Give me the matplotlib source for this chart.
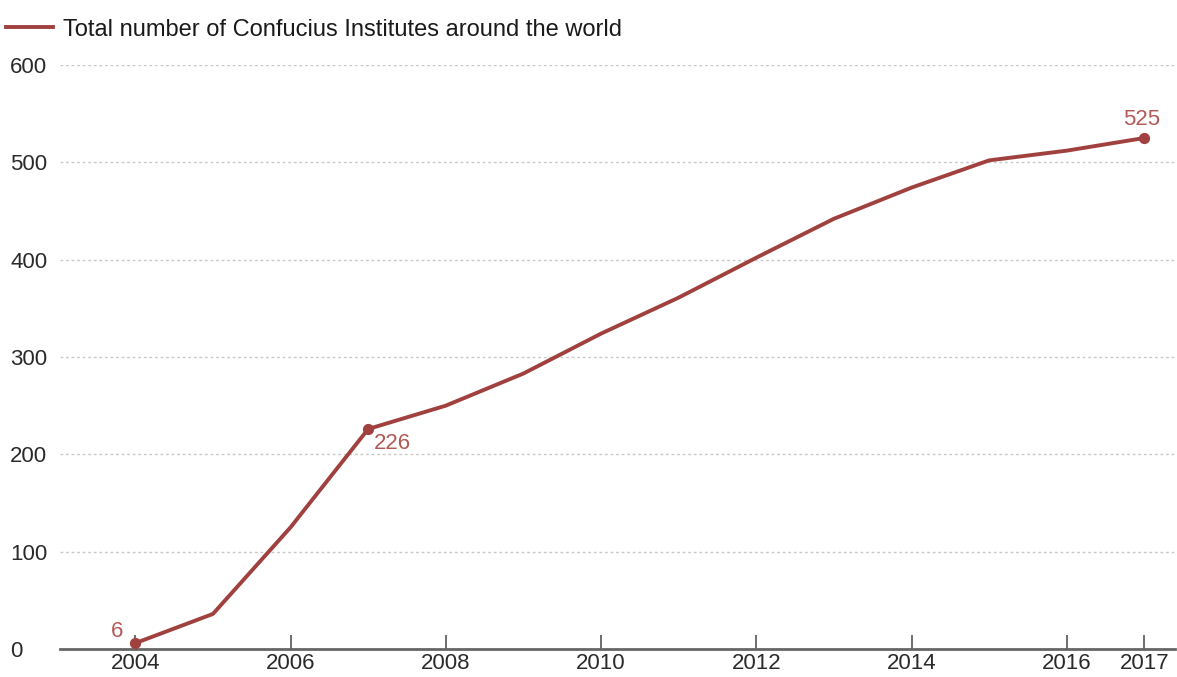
import matplotlib
matplotlib.use("Agg")
import matplotlib.pyplot as plt

years = [2004, 2005, 2006, 2007, 2008, 2009, 2010, 2011, 2012, 2013, 2014, 2015, 2016, 2017]
institutes = [6, 36, 125, 226, 250, 283, 324, 361, 402, 442, 474, 502, 512, 525]
xtick_years = [2004, 2006, 2008, 2010, 2012, 2014, 2016, 2017]
ytick_vals = [0, 100, 200, 300, 400, 500, 600]
highlight_years = [2004, 2007, 2017]

LINE = "#a0413f"
LABEL = "#b35a57"

plt.rcParams["font.family"] = ["Liberation Sans", "DejaVu Sans"]

fig = plt.figure(figsize=(11.77, 6.77), dpi=100)
ax = fig.add_axes([0.051, 0.0414, 0.947, 0.8626])

ax.plot(years, institutes, color=LINE, lw=2.8, solid_joinstyle="round",
        label="Total number of Confucius Institutes around the world")
hx = [years.index(y) for y in highlight_years]
ax.scatter([years[i] for i in hx], [institutes[i] for i in hx], color=LINE, s=50, zorder=3)

ax.annotate(str(institutes[hx[0]]), (years[hx[0]], institutes[hx[0]]), xytext=(-9, 1),
            textcoords="offset points", ha="right", va="bottom", color=LABEL, fontsize=16)
ax.annotate(str(institutes[hx[1]]), (years[hx[1]], institutes[hx[1]]), xytext=(4, -3),
            textcoords="offset points", ha="left", va="top", color=LABEL, fontsize=16)
ax.annotate(str(institutes[hx[2]]), (years[hx[2]], institutes[hx[2]]), xytext=(-2, 6),
            textcoords="offset points", ha="center", va="bottom", color=LABEL, fontsize=16)

ax.set_xlim(2003.03, 2017.39)
ax.set_ylim(0, 600)
ax.set_xticks(xtick_years)
ax.set_xticklabels([str(y) for y in xtick_years])
ax.set_yticks(ytick_vals)
ax.set_yticklabels([str(v) for v in ytick_vals])
for lab in ax.get_yticklabels():
    lab.set_horizontalalignment("left")
ax.tick_params(axis="y", length=0, pad=36, labelsize=16, colors="#2a2a2a")
ax.tick_params(axis="x", direction="in", length=10, width=1.2, color="#555555",
               labelsize=16, labelcolor="#2a2a2a", pad=3)

ax.grid(axis="y", color="#c8c8c8", linestyle=(0, (2, 2)), lw=1)
ax.set_axisbelow(True)
for s in ["top", "right", "left"]:
    ax.spines[s].set_visible(False)
ax.spines["bottom"].set_color("#666666")
ax.spines["bottom"].set_linewidth(2)

leg = fig.legend(loc="upper left", bbox_to_anchor=(-0.013, 1.004), frameon=False,
                 fontsize=17, handlelength=2.0, handletextpad=0.4)
leg.get_texts()[0].set_color("#1a1a1a")

fig.savefig("out.png", dpi=100)
